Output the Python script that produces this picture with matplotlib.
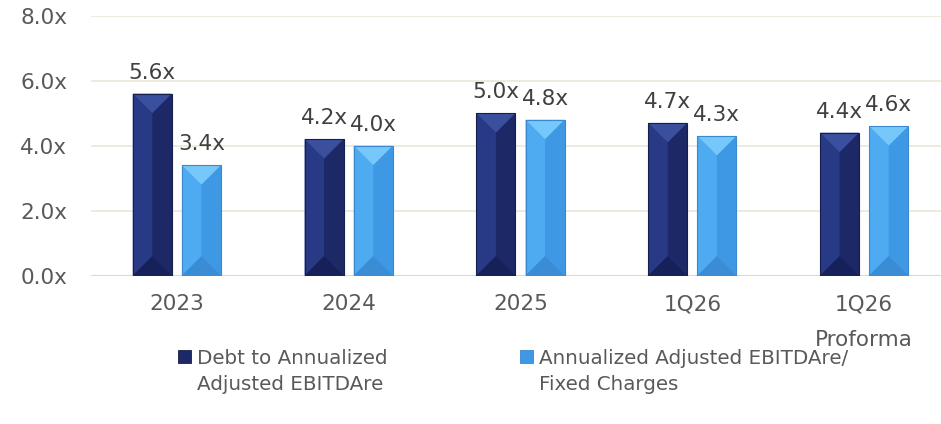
import numpy as np
import matplotlib.pyplot as plt
from matplotlib.patches import Rectangle, Polygon

# chart data
categories = ['2023', '2024', '2025', '1Q26', '1Q26\nProforma']
debt_to_ebitda = [5.6, 4.2, 5.0, 4.7, 4.4]
ebitda_to_fixed = [3.4, 4.0, 4.8, 4.3, 4.6]
series_labels = ['Debt to Annualized\nAdjusted EBITDAre',
                 'Annualized Adjusted EBITDAre/\nFixed Charges']
yticks = [0, 2, 4, 6, 8]

# bevel shades for the two series
dark = dict(main='#1c2966', left='#283a86', top='#3b4f9f', bottom='#16215a', edge='#151f4e')
light = dict(main='#3f98e3', left='#4eaaf1', top='#76c7fa', bottom='#3a8cd4', edge='#3a88cf')

plt.rcParams['font.family'] = 'DejaVu Sans'

W, H = 941, 424
fig = plt.figure(figsize=(W / 100, H / 100), dpi=100)
pos = [0.0966, 0.3498, 0.913, 0.6132]
ax = fig.add_axes(pos)
ax.set_xlim(-0.5, 4.5)
ax.set_ylim(0, 8)

# pixels per data unit, used to keep the bevel at 45 degrees
px_x = pos[2] * W / 5
px_y = pos[3] * H / 8

bar_w = 0.227
offset = 0.143
x = np.arange(len(categories))


def bevel_bars(xs, vals, c):
    bars = ax.bar(xs, vals, width=bar_w, color=c['main'], edgecolor='none', zorder=3)
    for b in bars:
        x0 = b.get_x()
        x1 = x0 + b.get_width()
        xc = (x0 + x1) / 2
        h = b.get_height()
        d = min((b.get_width() / 2) * px_x / px_y, h / 2)
        ax.add_patch(Polygon([(x0, 0), (xc, d), (xc, h - d), (x0, h)],
                             facecolor=c['left'], edgecolor='none', zorder=4))
        ax.add_patch(Polygon([(x0, h), (x1, h), (xc, h - d)],
                             facecolor=c['top'], edgecolor='none', zorder=4))
        ax.add_patch(Polygon([(x0, 0), (x1, 0), (xc, d)],
                             facecolor=c['bottom'], edgecolor='none', zorder=4))
        ax.add_patch(Rectangle((x0, 0), b.get_width(), h, facecolor='none',
                               edgecolor=c['edge'], lw=0.8, zorder=5))
    return bars


bevel_bars(x - offset, debt_to_ebitda, dark)
bevel_bars(x + offset, ebitda_to_fixed, light)

for xs, vals in [(x - offset, debt_to_ebitda), (x + offset, ebitda_to_fixed)]:
    for xi, v in zip(xs, vals):
        ax.annotate(f'{v:.1f}x', (xi, v), xytext=(0, 8), textcoords='offset points',
                    ha='center', va='bottom', fontsize=15.5, color='#404040', zorder=6)

ax.set_yticks(yticks)
ax.set_yticklabels([f'{t:.1f}x' for t in yticks])
ax.set_xticks(x)
ax.set_xticklabels(categories, linespacing=1.95)
ax.tick_params(axis='y', length=0, pad=17, labelsize=15.5, labelcolor='#595959')
ax.tick_params(axis='x', length=0, pad=13.5, labelsize=15.5, labelcolor='#595959')
ax.grid(axis='y', color='#ece8dc', lw=1.3, zorder=0)
ax.axhline(0, color='#d9d9d9', lw=1.5, zorder=2)
for s in ax.spines.values():
    s.set_visible(False)

# legend below the plot
leg_x = [178, 520]
base_y = 364
for lx, lab, c in zip(leg_x, series_labels, [dark, light]):
    fig.add_artist(Rectangle((lx / W, 1 - (base_y - 1) / H), 13 / W, 13 / H,
                             transform=fig.transFigure, facecolor=c['main'],
                             edgecolor=c['edge'], lw=0.6))
    fig.text((lx + 19) / W, 1 - (base_y - 15) / H, lab, ha='left', va='top',
             fontsize=14.3, color='#595959', linespacing=1.5)

fig.savefig('out.png', dpi=100)
